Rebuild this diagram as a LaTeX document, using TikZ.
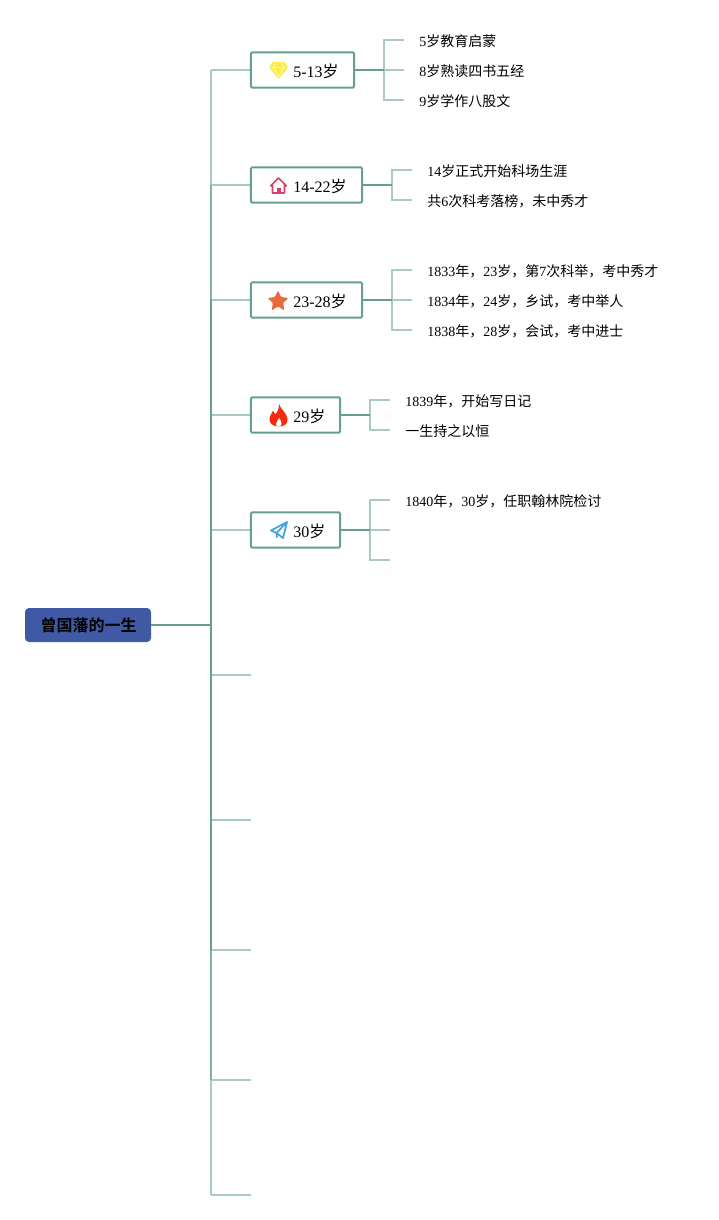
\documentclass[tikz,border=0pt]{standalone}
\usepackage{fontspec}
\setmainfont{Liberation Serif}
\newfontfamily\cjk{Noto Sans CJK SC}
\newfontfamily\cjkbold{Noto Sans CJK SC Bold}
\definecolor{lineDark}{HTML}{659F8D}
\definecolor{lineMid}{HTML}{82B3A2}
\definecolor{lineLight}{HTML}{A9CBBF}
\definecolor{rootBlue}{HTML}{4059A4}
\definecolor{gemYellow}{HTML}{F8EC4A}
\definecolor{homeRed}{HTML}{D0416B}
\definecolor{starOrange}{HTML}{E56B3C}
\definecolor{flameRed}{HTML}{F8290F}
\definecolor{planeBlue}{HTML}{3CA4DC}
\tikzset{
	rootbox/.style={fill=rootBlue, rounded corners=3pt, inner sep=0pt},
	agebox/.style={draw=lineDark, line width=1.5pt, fill=white, rounded corners=1pt, inner sep=0pt},
	leaf/.style={anchor=west, inner sep=0pt, font=\fontsize{10.5}{13}\selectfont},
	agetext/.style={anchor=west, inner sep=0pt, font=\fontsize{12}{14}\selectfont},
	dark/.style={draw=lineDark, line width=1.4pt},
	mid/.style={draw=lineMid, line width=1.4pt},
	light/.style={draw=lineLight, line width=1.1pt},
}
\begin{document}
\begin{tikzpicture}[x=0.75pt,y=-0.75pt]
	\useasboundingbox (0,0) rectangle (718,1220);

	% Branches from trunk
	\foreach \n/\y in {1/70,2/185,3/300,4/415,5/530}{
		\coordinate (join\n) at (211,\y);
		\coordinate (boxleft\n) at (251,\y);
		\draw[light] (join\n) -- (boxleft\n);
	}
	\foreach \n/\y in {6/675,7/820,8/950,9/1080,10/1195}{
		\coordinate (join\n) at (211,\y);
		\coordinate (stub\n) at (251,\y);
		\draw[light] (join\n) -- (stub\n);
	}

	% Trunk
	\draw[light, line width=1.4pt] (join1) -- (join2);
	\draw[mid] (join2) -- (join3);
	\draw[dark] (join3) -- (join8);
	\draw[mid] (join8) -- (join9);
	\draw[light, line width=1.4pt] (join9) -- (join10);

	% Root
	\node[rootbox, minimum width=94.5pt, minimum height=25.5pt] (root) at (88,625) {};
	\node[inner sep=0pt, font=\cjkbold\fontsize{12}{14}\selectfont] (roottext) at (88.5,625.5) {曾国藩的一生};
	\coordinate (rootjoin) at (211,625);
	\draw[dark] (root.east) -- (rootjoin);

	% Age boxes
	\node[agebox, minimum width=77.5pt, minimum height=26.5pt] (age1) at (302.5,70) {};
	\node[agebox, minimum width=83.5pt, minimum height=26.5pt] (age2) at (306.5,185) {};
	\node[agebox, minimum width=83.5pt, minimum height=26.5pt] (age3) at (306.5,300) {};
	\node[agebox, minimum width=67pt, minimum height=26.5pt] (age4) at (295.5,415) {};
	\node[agebox, minimum width=67pt, minimum height=26.5pt] (age5) at (295.5,530) {};
	\node[agetext] (agetext1) at (293,71) {5-13{\cjk 岁}};
	\node[agetext] (agetext2) at (293,186) {14-22{\cjk 岁}};
	\node[agetext] (agetext3) at (293,301) {23-28{\cjk 岁}};
	\node[agetext] (agetext4) at (293,416) {29{\cjk 岁}};
	\node[agetext] (agetext5) at (293,531) {30{\cjk 岁}};

	% Age 1
	\coordinate (fork1) at (384,70);
	\coordinate (end11) at (404,40);
	\coordinate (end12) at (404,70);
	\coordinate (end13) at (404,100);
	\draw[light] (end11) -- (384,40) -- (384,100) -- (end13);
	\draw[light] (fork1) -- (end12);
	\draw[dark] (age1.east) -- (fork1);
	\node[leaf] (leaf11) at (419,41) {5{\cjk 岁教育启蒙}};
	\node[leaf] (leaf12) at (419,71) {8{\cjk 岁熟读四书五经}};
	\node[leaf] (leaf13) at (419,101) {9{\cjk 岁学作八股文}};

	% Age 2
	\coordinate (fork2) at (392,185);
	\coordinate (end21) at (412,170);
	\coordinate (end22) at (412,200);
	\draw[light] (end21) -- (392,170) -- (392,200) -- (end22);
	\draw[dark] (age2.east) -- (fork2);
	\node[leaf] (leaf21) at (427,171) {14{\cjk 岁正式开始科场生涯}};
	\node[leaf] (leaf22) at (427,201) {{\cjk 共}6{\cjk 次科考落榜，未中秀才}};

	% Age 3
	\coordinate (fork3) at (392,300);
	\coordinate (end31) at (412,270);
	\coordinate (end32) at (412,300);
	\coordinate (end33) at (412,330);
	\draw[light] (end31) -- (392,270) -- (392,330) -- (end33);
	\draw[light] (fork3) -- (end32);
	\draw[dark] (age3.east) -- (fork3);
	\node[leaf] (leaf31) at (427,271) {1833{\cjk 年，}23{\cjk 岁，第}7{\cjk 次科举，考中秀才}};
	\node[leaf] (leaf32) at (427,301) {1834{\cjk 年，}24{\cjk 岁，乡试，考中举人}};
	\node[leaf] (leaf33) at (427,331) {1838{\cjk 年，}28{\cjk 岁，会试，考中进士}};

	% Age 4
	\coordinate (fork4) at (370,415);
	\coordinate (end41) at (390,400);
	\coordinate (end42) at (390,430);
	\draw[light] (end41) -- (370,400) -- (370,430) -- (end42);
	\draw[dark] (age4.east) -- (fork4);
	\node[leaf] (leaf41) at (405,401) {1839{\cjk 年，开始写日记}};
	\node[leaf] (leaf42) at (405,431) {{\cjk 一生持之以恒}};

	% Age 5
	\coordinate (fork5) at (370,530);
	\coordinate (end51) at (390,500);
	\coordinate (end52) at (390,530);
	\coordinate (end53) at (390,560);
	\draw[light] (end51) -- (370,500) -- (370,560) -- (end53);
	\draw[light] (fork5) -- (end52);
	\draw[dark] (age5.east) -- (fork5);
	\node[leaf] (leaf51) at (405,501) {1840{\cjk 年，}30{\cjk 岁，任职翰林院检讨}};

	% Diamond
	\fill[gemYellow] (272.5,62) -- (284.5,62) -- (288,67.5) -- (278.5,79) -- (269,67.5) -- cycle;
	\draw[white, line width=0.35pt] (270,67.5) -- (287,67.5) (275.5,62.5) -- (273.5,67.5) -- (278.5,77) -- (283.5,67.5) -- (281.5,62.5);

	% House
	\draw[homeRed, line width=1.2pt, line join=round, line cap=round] (270.5,186) -- (278.5,178) -- (286.5,186) (272.5,184.5) -- (272.5,193) -- (284.5,193) -- (284.5,184.5);
	\fill[homeRed] (276.5,193) rectangle (280.5,187.5);

	% Star
	\fill[starOrange, rounded corners=0.8pt] (278,290.5) -- (281,297) -- (288.5,298) -- (283,303) -- (284.5,310.5) -- (278,306.5) -- (271.5,310.5) -- (273,303) -- (267.5,298) -- (275,297) -- cycle;

	% Flame
	\fill[flameRed] (279,404) .. controls (281,410) and (287,413) .. (287.5,419) .. controls (288,424) and (284,426.5) .. (278.5,426.5) .. controls (273,426.5) and (269,423) .. (269.5,419) .. controls (270,415) and (272,414) .. (273,410.5) .. controls (274,413) and (275,414) .. (276,414) .. controls (278,411) and (279,408) .. (279,404) -- cycle;
	\fill[white] (279,418) .. controls (280,420) and (282,421) .. (281.5,424) .. controls (281,425.5) and (280,426.5) .. (278.5,426.5) .. controls (277,426.5) and (276,425.5) .. (276,424) .. controls (276,422) and (278,421) .. (279,418) -- cycle;

	% Plane
	\draw[planeBlue, line width=1.3pt, line join=round] (287,522) -- (271,530.5) -- (276.5,533) -- (283,538) -- cycle;
	\draw[planeBlue, line width=1.3pt, line join=round] (287,522) -- (276.5,533) -- (277,537.5);
\end{tikzpicture}
\end{document}
